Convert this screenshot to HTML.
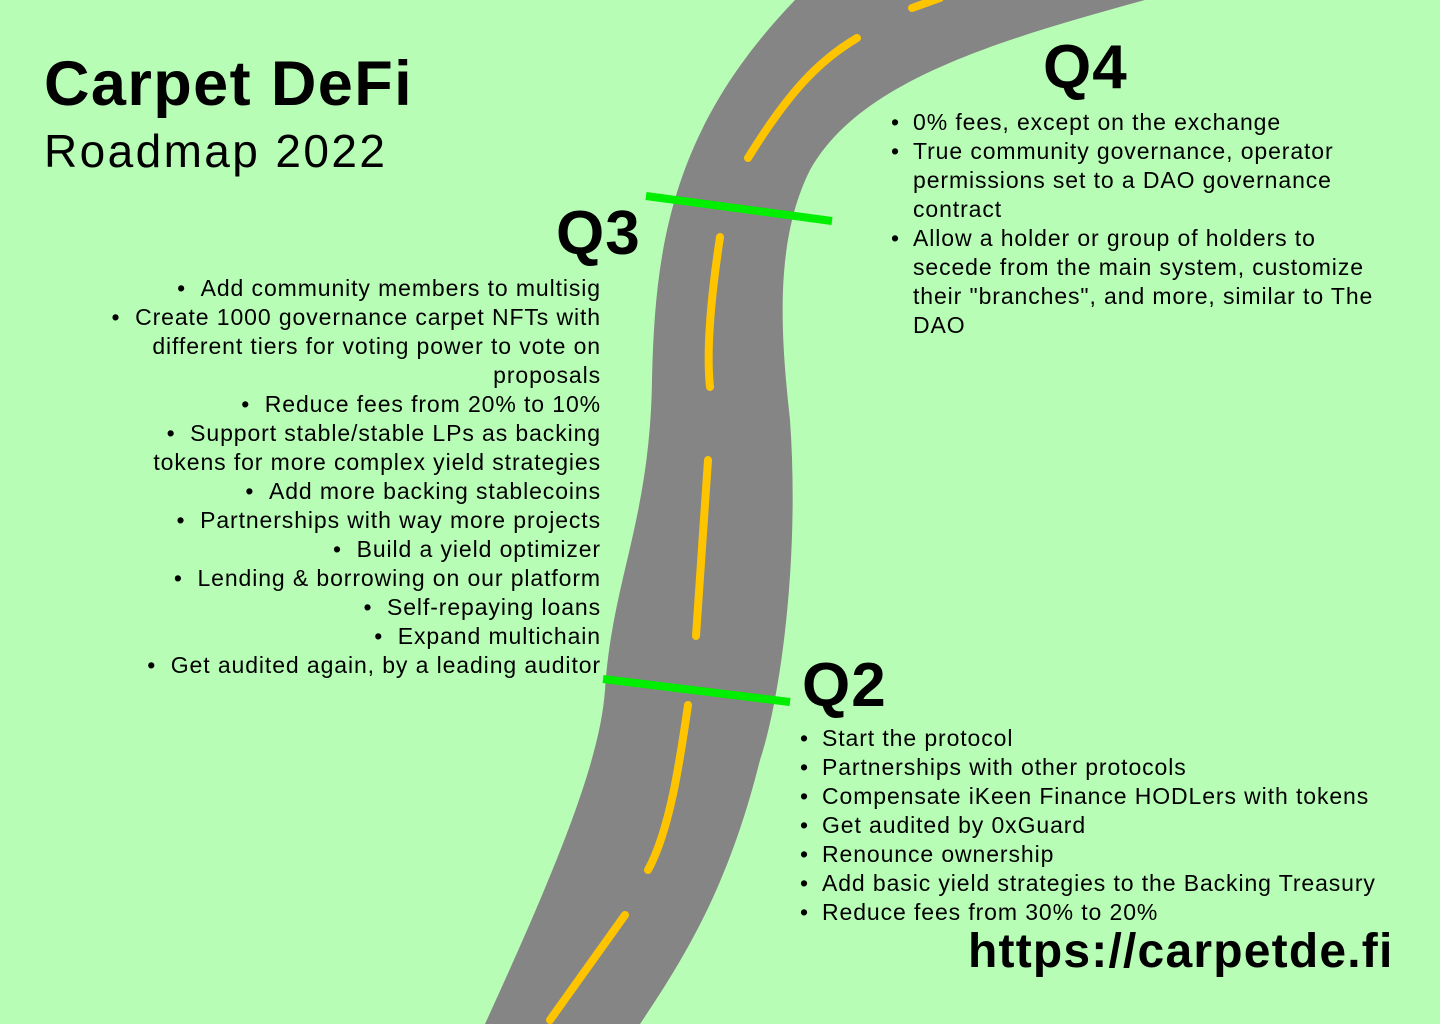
<!DOCTYPE html>
<html><head><meta charset="utf-8"><style>
body{margin:0;width:1440px;height:1024px;background:#b8fdb6;overflow:hidden;position:relative;font-family:"Liberation Sans",sans-serif;color:#000}
.abs{position:absolute}
ul{margin:0;padding:0;list-style:none}
li{font-size:23px;line-height:29px;position:relative;letter-spacing:0.9px}
.r li::before{content:"•";position:absolute}
.r li{padding-left:24px}.r li::before{left:2px}
.l li{text-align:right}
.l li span::before{content:"•\00a0\00a0";}
h2{margin:0;font-size:62px;font-weight:bold;position:absolute;letter-spacing:1px}
</style></head><body>
<svg class="abs" width="1440" height="1024" style="left:0;top:0">
<path fill="#858585" d="M485,1024 C560,860 600,760 605,690 C612,580 650,520 652,380 C655,250 670,130 795,0 L1145,0 C1000,40 860,80 810,170 C775,240 780,330 790,420 C800,560 780,700 760,760 C730,880 690,950 640,1024 Z"/>
<g stroke="#ffc400" stroke-width="8" fill="none" stroke-linecap="round">
<path d="M550,1020 L625,915"/>
<path d="M648,870 C670,830 680,760 688,705"/>
<path d="M696,636 L708,460"/>
<path d="M710,387 C705,340 715,270 720,237"/>
<path d="M748,158 C790,90 820,60 857,38"/>
<path d="M912,8 L940,-2"/>
</g>
<line x1="646" y1="196" x2="832" y2="221" stroke="#00ee00" stroke-width="8"/>
<line x1="603" y1="679" x2="790" y2="702" stroke="#00ee00" stroke-width="8"/>
</svg>
<div class="abs" style="left:44px;top:48px;font-size:63px;font-weight:bold;letter-spacing:1.4px">Carpet DeFi</div>
<div class="abs" style="left:44px;top:124px;font-size:46px;letter-spacing:2.4px">Roadmap 2022</div>
<h2 style="left:1043px;top:32px">Q4</h2>
<h2 style="left:556px;top:198px">Q3</h2>
<h2 style="left:802px;top:650px">Q2</h2>
<ul class="abs r" style="left:889px;top:108px;width:490px">
<li>0% fees, except on the exchange</li>
<li>True community governance, operator permissions set to a DAO governance contract</li>
<li>Allow a holder or group of holders to secede from the main system, customize their "branches", and more, similar to The DAO</li>
</ul>
<ul class="abs l" style="left:100px;top:274px;width:501px">
<li><span>Add community members to multisig</span></li>
<li><span>Create 1000 governance carpet NFTs with different tiers for voting power to vote on proposals</span></li>
<li><span>Reduce fees from 20% to 10%</span></li>
<li><span>Support stable/stable LPs as backing tokens for more complex yield strategies</span></li>
<li><span>Add more backing stablecoins</span></li>
<li><span>Partnerships with way more projects</span></li>
<li><span>Build a yield optimizer</span></li>
<li><span>Lending &amp; borrowing on our platform</span></li>
<li><span>Self-repaying loans</span></li>
<li><span>Expand multichain</span></li>
<li><span>Get audited again, by a leading auditor</span></li>
</ul>
<ul class="abs r" style="left:798px;top:724px;width:640px">
<li>Start the protocol</li>
<li>Partnerships with other protocols</li>
<li>Compensate iKeen Finance HODLers with tokens</li>
<li>Get audited by 0xGuard</li>
<li>Renounce ownership</li>
<li>Add basic yield strategies to the Backing Treasury</li>
<li>Reduce fees from 30% to 20%</li>
</ul>
<div class="abs" style="left:968px;top:924px;font-size:48px;font-weight:bold;letter-spacing:1.2px">https://carpetde.fi</div>
</body></html>
